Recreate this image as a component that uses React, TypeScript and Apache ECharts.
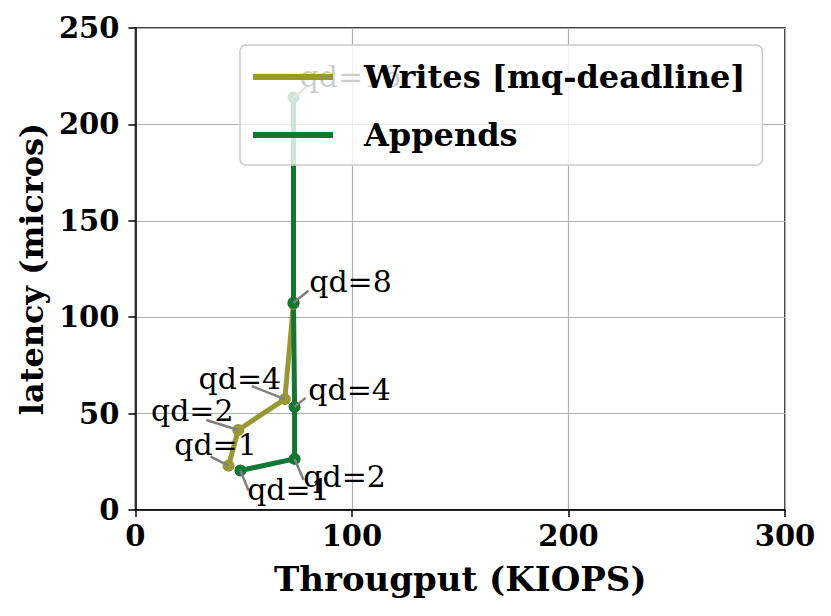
import React, { useEffect, useRef } from "react";
import * as echarts from "echarts";

const qdLabels = ["qd=1", "qd=2", "qd=4", "qd=8", "qd=16"];
const writesX = [43, 47.5, 69, 73];
const writesY = [23, 41.5, 57.5, 107];
const appendsX = [48.5, 73.5, 73.5, 73, 73];
const appendsY = [20.5, 26.5, 53.5, 107.5, 214];
const xTicks = [0, 100, 200, 300];
const yTicks = [0, 50, 100, 150, 200, 250];

// annotation pixel offsets: [textDx, textDy, lineDx, lineDy]
const writesOffsets = [
  [-13, -21, -18, -9],
  [-46, -19, -32, -10],
  [-45, -21, -33, -13],
];
const appendsOffsets = [
  [48, 19, 8, 20],
  [50, 18, 9, 21],
  [55, -17, 11, -9],
  [57, -21, 15, -12],
  [57, -21, 15, -12],
];

const OLIVE = "#999933";
const GREEN = "#117733";
const FONT = '"DejaVu Serif", "Liberation Serif", serif';

export default function App() {
  const ref = useRef<HTMLDivElement>(null);
  useEffect(() => {
    if (!ref.current) return;
    const chart = echarts.init(ref.current, null, { renderer: "svg" });
    const annRows: any[] = [];
    writesOffsets.forEach((o, i) => annRows.push([writesX[i], writesY[i], i, 0]));
    appendsOffsets.forEach((o, i) => annRows.push([appendsX[i], appendsY[i], i, 1]));

    const option: any = {
      animation: false,
      grid: {
        left: 127,
        right: 38,
        top: 20,
        bottom: 98,
        show: true,
        borderColor: "#000",
        borderWidth: 1.5,
        backgroundColor: "transparent",
      },
      legend: {
        orient: "vertical",
        left: 232,
        top: 37,
        z: 10,
        padding: [12, 17, 10, 13],
        itemGap: 18,
        itemWidth: 80,
        itemHeight: 6,
        icon: "rect",
        backgroundColor: "rgba(255,255,255,0.8)",
        borderColor: "#cccccc",
        borderWidth: 1.5,
        borderRadius: 6,
        textStyle: {
          fontFamily: FONT,
          fontWeight: "bold",
          fontSize: 32,
          color: "#000",
          lineHeight: 40,
          padding: [0, 0, 0, 26],
        },
        data: ["Writes [mq-deadline]", "Appends"],
      },
      xAxis: {
        type: "value",
        min: xTicks[0],
        max: xTicks[xTicks.length - 1],
        interval: 100,
        name: "Througput (KIOPS)",
        nameLocation: "middle",
        nameGap: 52,
        nameTextStyle: { fontFamily: FONT, fontWeight: "bold", fontSize: 34, color: "#000" },
        axisLine: { lineStyle: { color: "#000", width: 1.5 } },
        axisTick: { show: true, length: 7, lineStyle: { color: "#000", width: 1.5 } },
        axisLabel: { fontFamily: FONT, fontWeight: "bold", fontSize: 29, color: "#000", margin: 11 },
        splitLine: { show: true, lineStyle: { color: "#b0b0b0", width: 1.2 } },
      },
      yAxis: {
        type: "value",
        min: yTicks[0],
        max: yTicks[yTicks.length - 1],
        interval: 50,
        name: "latency (micros)",
        nameLocation: "middle",
        nameGap: 86,
        nameTextStyle: { fontFamily: FONT, fontWeight: "bold", fontSize: 32, color: "#000" },
        axisLine: { show: true, lineStyle: { color: "#000", width: 1.5 } },
        axisTick: { show: true, length: 7, lineStyle: { color: "#000", width: 1.5 } },
        axisLabel: { fontFamily: FONT, fontWeight: "bold", fontSize: 29, color: "#000", margin: 16 },
        splitLine: { show: true, lineStyle: { color: "#b0b0b0", width: 1.2 } },
      },
      series: [
        {
          name: "Writes [mq-deadline]",
          type: "line",
          z: 2,
          data: writesX.map((x, i) => [x, writesY[i]]),
          symbol: "circle",
          symbolSize: 12,
          lineStyle: { color: OLIVE, width: 5 },
          itemStyle: { color: OLIVE },
          color: OLIVE,
        },
        {
          name: "Appends",
          type: "line",
          z: 2,
          data: appendsX.map((x, i) => [x, appendsY[i]]),
          symbol: "circle",
          symbolSize: 12,
          lineStyle: { color: GREEN, width: 5 },
          itemStyle: { color: GREEN },
          color: GREEN,
        },
        {
          type: "custom",
          z: 3,
          silent: true,
          data: annRows,
          renderItem: (params: any, api: any) => {
            const p = api.coord([api.value(0), api.value(1)]);
            const idx = api.value(2);
            const s = api.value(3);
            const o = s === 0 ? writesOffsets[idx] : appendsOffsets[idx];
            return {
              type: "group",
              children: [
                {
                  type: "line",
                  shape: { x1: p[0], y1: p[1], x2: p[0] + o[2], y2: p[1] + o[3] },
                  style: { stroke: "#808080", lineWidth: 2.5 },
                },
                {
                  type: "text",
                  style: {
                    text: qdLabels[idx],
                    x: p[0] + o[0],
                    y: p[1] + o[1],
                    font: `30px ${FONT}`,
                    fill: "#000",
                    align: "center",
                    verticalAlign: "middle",
                    textAlign: "center",
                    textVerticalAlign: "middle",
                  },
                },
              ],
            };
          },
        },
      ],
    };
    chart.setOption(option);
    return () => chart.dispose();
  }, []);
  return <div ref={ref} style={{ width: 815, height: 600 }} />;
}
